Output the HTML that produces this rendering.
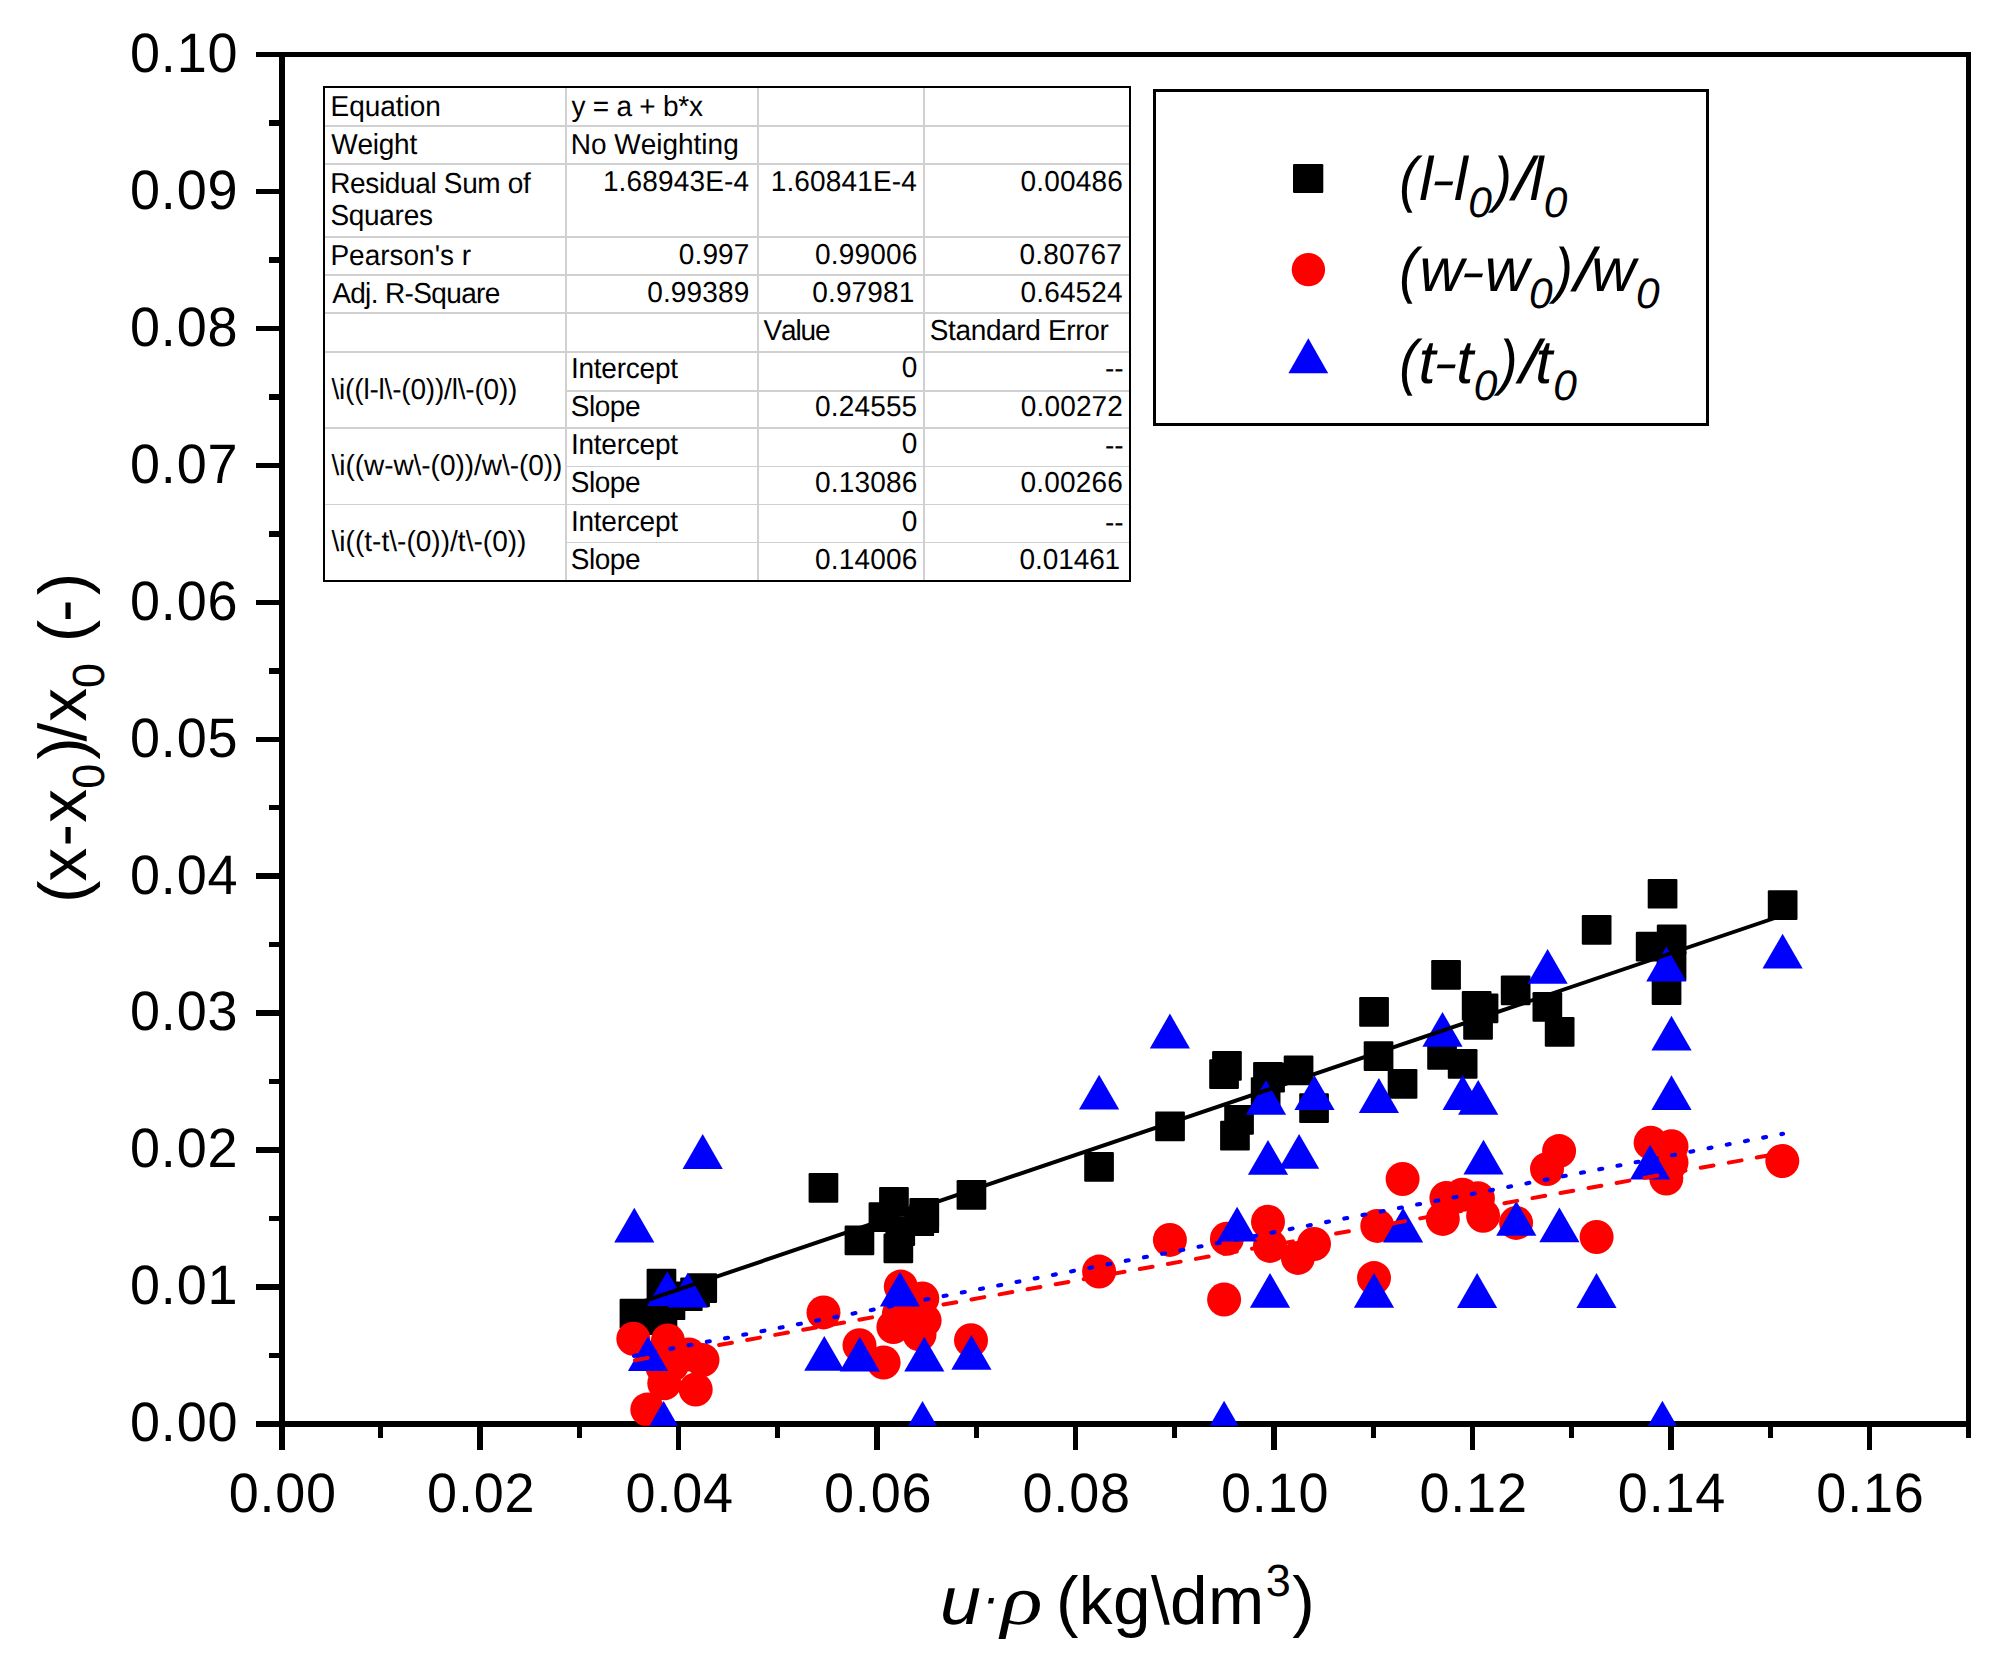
<!DOCTYPE html>
<html lang="en"><head><meta charset="utf-8"><title>Linear fit: (x-x0)/x0 versus u·ρ</title>
<style>
html,body{margin:0;padding:0;background:#fff;}
svg{display:block;}
text{font-kerning:none;text-rendering:geometricPrecision;white-space:pre;}
</style></head><body>
<svg width="2008" height="1665" viewBox="0 0 2008 1665">
<rect x="0" y="0" width="2008" height="1665" fill="#fff"/>
<g id="axes" shape-rendering="crispEdges">
<rect x="256.00" y="52.00" width="1715.00" height="5.00" fill="#000"/>
<rect x="256.00" y="1421.00" width="1715.00" height="6.00" fill="#000"/>
<rect x="279.00" y="52.00" width="6.00" height="1398.00" fill="#000"/>
<rect x="1966.00" y="52.00" width="5.00" height="1386.00" fill="#000"/>
<rect x="269.00" y="1352.78" width="10.00" height="5.50" fill="#000"/>
<rect x="256.00" y="1284.30" width="23.00" height="5.50" fill="#000"/>
<rect x="269.00" y="1215.83" width="10.00" height="5.50" fill="#000"/>
<rect x="256.00" y="1147.35" width="23.00" height="5.50" fill="#000"/>
<rect x="269.00" y="1078.88" width="10.00" height="5.50" fill="#000"/>
<rect x="256.00" y="1010.40" width="23.00" height="5.50" fill="#000"/>
<rect x="269.00" y="941.92" width="10.00" height="5.50" fill="#000"/>
<rect x="256.00" y="873.45" width="23.00" height="5.50" fill="#000"/>
<rect x="269.00" y="804.98" width="10.00" height="5.50" fill="#000"/>
<rect x="256.00" y="736.50" width="23.00" height="5.50" fill="#000"/>
<rect x="269.00" y="668.02" width="10.00" height="5.50" fill="#000"/>
<rect x="256.00" y="599.55" width="23.00" height="5.50" fill="#000"/>
<rect x="269.00" y="531.07" width="10.00" height="5.50" fill="#000"/>
<rect x="256.00" y="462.60" width="23.00" height="5.50" fill="#000"/>
<rect x="269.00" y="394.12" width="10.00" height="5.50" fill="#000"/>
<rect x="256.00" y="325.65" width="23.00" height="5.50" fill="#000"/>
<rect x="269.00" y="257.17" width="10.00" height="5.50" fill="#000"/>
<rect x="256.00" y="188.70" width="23.00" height="5.50" fill="#000"/>
<rect x="269.00" y="120.22" width="10.00" height="5.50" fill="#000"/>
<rect x="378.43" y="1427.00" width="5.00" height="11.00" fill="#000"/>
<rect x="477.36" y="1427.00" width="5.60" height="23.00" fill="#000"/>
<rect x="576.89" y="1427.00" width="5.00" height="11.00" fill="#000"/>
<rect x="675.82" y="1427.00" width="5.60" height="23.00" fill="#000"/>
<rect x="775.35" y="1427.00" width="5.00" height="11.00" fill="#000"/>
<rect x="874.28" y="1427.00" width="5.60" height="23.00" fill="#000"/>
<rect x="973.81" y="1427.00" width="5.00" height="11.00" fill="#000"/>
<rect x="1072.74" y="1427.00" width="5.60" height="23.00" fill="#000"/>
<rect x="1172.27" y="1427.00" width="5.00" height="11.00" fill="#000"/>
<rect x="1271.20" y="1427.00" width="5.60" height="23.00" fill="#000"/>
<rect x="1370.73" y="1427.00" width="5.00" height="11.00" fill="#000"/>
<rect x="1469.66" y="1427.00" width="5.60" height="23.00" fill="#000"/>
<rect x="1569.19" y="1427.00" width="5.00" height="11.00" fill="#000"/>
<rect x="1668.12" y="1427.00" width="5.60" height="23.00" fill="#000"/>
<rect x="1767.65" y="1427.00" width="5.00" height="11.00" fill="#000"/>
<rect x="1866.58" y="1427.00" width="5.60" height="23.00" fill="#000"/>
</g>
<g id="ticklabels">
<text transform="translate(228.65,1511.80) scale(1.0,1.03)" style="font-family:'Liberation Sans', sans-serif;font-size:54.0px;letter-spacing:0.800px;" fill="#000" >0.00</text>
<text transform="translate(427.11,1511.80) scale(1.0,1.03)" style="font-family:'Liberation Sans', sans-serif;font-size:54.0px;letter-spacing:0.800px;" fill="#000" >0.02</text>
<text transform="translate(625.57,1511.80) scale(1.0,1.03)" style="font-family:'Liberation Sans', sans-serif;font-size:54.0px;letter-spacing:0.800px;" fill="#000" >0.04</text>
<text transform="translate(824.03,1511.80) scale(1.0,1.03)" style="font-family:'Liberation Sans', sans-serif;font-size:54.0px;letter-spacing:0.800px;" fill="#000" >0.06</text>
<text transform="translate(1022.49,1511.80) scale(1.0,1.03)" style="font-family:'Liberation Sans', sans-serif;font-size:54.0px;letter-spacing:0.800px;" fill="#000" >0.08</text>
<text transform="translate(1220.95,1511.80) scale(1.0,1.03)" style="font-family:'Liberation Sans', sans-serif;font-size:54.0px;letter-spacing:0.800px;" fill="#000" >0.10</text>
<text transform="translate(1419.41,1511.80) scale(1.0,1.03)" style="font-family:'Liberation Sans', sans-serif;font-size:54.0px;letter-spacing:0.800px;" fill="#000" >0.12</text>
<text transform="translate(1617.87,1511.80) scale(1.0,1.03)" style="font-family:'Liberation Sans', sans-serif;font-size:54.0px;letter-spacing:0.800px;" fill="#000" >0.14</text>
<text transform="translate(1816.33,1511.80) scale(1.0,1.03)" style="font-family:'Liberation Sans', sans-serif;font-size:54.0px;letter-spacing:0.800px;" fill="#000" >0.16</text>
<text transform="translate(130.00,1441.30) scale(1.0,1.03)" style="font-family:'Liberation Sans', sans-serif;font-size:54.0px;letter-spacing:0.800px;" fill="#000" >0.00</text>
<text transform="translate(130.00,1304.35) scale(1.0,1.03)" style="font-family:'Liberation Sans', sans-serif;font-size:54.0px;letter-spacing:0.800px;" fill="#000" >0.01</text>
<text transform="translate(130.00,1167.40) scale(1.0,1.03)" style="font-family:'Liberation Sans', sans-serif;font-size:54.0px;letter-spacing:0.800px;" fill="#000" >0.02</text>
<text transform="translate(130.00,1030.45) scale(1.0,1.03)" style="font-family:'Liberation Sans', sans-serif;font-size:54.0px;letter-spacing:0.800px;" fill="#000" >0.03</text>
<text transform="translate(130.00,893.50) scale(1.0,1.03)" style="font-family:'Liberation Sans', sans-serif;font-size:54.0px;letter-spacing:0.800px;" fill="#000" >0.04</text>
<text transform="translate(130.00,756.55) scale(1.0,1.03)" style="font-family:'Liberation Sans', sans-serif;font-size:54.0px;letter-spacing:0.800px;" fill="#000" >0.05</text>
<text transform="translate(130.00,619.60) scale(1.0,1.03)" style="font-family:'Liberation Sans', sans-serif;font-size:54.0px;letter-spacing:0.800px;" fill="#000" >0.06</text>
<text transform="translate(130.00,482.65) scale(1.0,1.03)" style="font-family:'Liberation Sans', sans-serif;font-size:54.0px;letter-spacing:0.800px;" fill="#000" >0.07</text>
<text transform="translate(130.00,345.70) scale(1.0,1.03)" style="font-family:'Liberation Sans', sans-serif;font-size:54.0px;letter-spacing:0.800px;" fill="#000" >0.08</text>
<text transform="translate(130.00,208.75) scale(1.0,1.03)" style="font-family:'Liberation Sans', sans-serif;font-size:54.0px;letter-spacing:0.800px;" fill="#000" >0.09</text>
<text transform="translate(130.00,71.80) scale(1.0,1.03)" style="font-family:'Liberation Sans', sans-serif;font-size:54.0px;letter-spacing:0.800px;" fill="#000" >0.10</text>
</g>
<g id="titles">
<text transform="translate(939.91,1624.00) scale(1.09,1.0)" style="font-family:'Liberation Sans', sans-serif;font-size:67.5px;font-style:italic;" fill="#000" >u</text>
<text transform="translate(982.19,1615.30) scale(0.78,0.78)" style="font-family:'Liberation Sans', sans-serif;font-size:67.5px;font-style:italic;" fill="#000" >·</text>
<text transform="translate(1000.81,1624.00) scale(1.23,1.0)" style="font-family:'Liberation Serif', serif;font-size:70.875px;font-style:italic;" fill="#000" >ρ</text>
<text x="1056.01" y="1624.00" style="font-family:'Liberation Sans', sans-serif;font-size:67.5px;letter-spacing:0.369px;" fill="#000" >(kg\dm</text>
<text x="1265.79" y="1596.00" style="font-family:'Liberation Sans', sans-serif;font-size:45.0px;" fill="#000" >3</text>
<text x="1292.20" y="1624.00" style="font-family:'Liberation Sans', sans-serif;font-size:67.5px;" fill="#000" >)</text>
<g transform="translate(86.1,900) rotate(-90)">
<text x="-2.89" y="0.00" style="font-family:'Liberation Sans', sans-serif;font-size:67.5px;">(</text>
<text x="18.54" y="0.00" style="font-family:'Liberation Sans', sans-serif;font-size:67.5px;">x</text>
<text x="53.50" y="0.00" style="font-family:'Liberation Sans', sans-serif;font-size:67.5px;">-</text>
<text x="77.34" y="0.00" style="font-family:'Liberation Sans', sans-serif;font-size:67.5px;">x</text>
<text x="111.24" y="18.00" style="font-family:'Liberation Sans', sans-serif;font-size:45.0px;">0</text>
<text x="140.20" y="0.00" style="font-family:'Liberation Sans', sans-serif;font-size:67.5px;">)</text>
<text x="158.60" y="0.00" style="font-family:'Liberation Sans', sans-serif;font-size:67.5px;">/</text>
<text x="178.24" y="0.00" style="font-family:'Liberation Sans', sans-serif;font-size:67.5px;">x</text>
<text x="212.14" y="18.00" style="font-family:'Liberation Sans', sans-serif;font-size:45.0px;">0</text>
<text x="257.71" y="0.00" style="font-family:'Liberation Sans', sans-serif;font-size:67.5px;">(</text>
<text x="278.10" y="0.00" style="font-family:'Liberation Sans', sans-serif;font-size:67.5px;">-</text>
<text x="304.80" y="0.00" style="font-family:'Liberation Sans', sans-serif;font-size:67.5px;">)</text>
</g>
</g>
<g id="fit-table">
<g shape-rendering="crispEdges">
<rect x="565.00" y="87.00" width="2.00" height="494.00" fill="#d0d0d0"/>
<rect x="756.70" y="87.00" width="2.00" height="494.00" fill="#d0d0d0"/>
<rect x="923.10" y="87.00" width="2.00" height="494.00" fill="#d0d0d0"/>
<rect x="324.00" y="125.30" width="806.10" height="2.00" fill="#d0d0d0"/>
<rect x="324.00" y="163.00" width="806.10" height="2.00" fill="#d0d0d0"/>
<rect x="324.00" y="235.60" width="806.10" height="2.00" fill="#d0d0d0"/>
<rect x="324.00" y="273.70" width="806.10" height="2.00" fill="#d0d0d0"/>
<rect x="324.00" y="311.90" width="806.10" height="2.00" fill="#d0d0d0"/>
<rect x="324.00" y="351.10" width="806.10" height="2.00" fill="#d0d0d0"/>
<rect x="566.00" y="389.50" width="564.10" height="2.00" fill="#d0d0d0"/>
<rect x="324.00" y="427.00" width="806.10" height="2.00" fill="#d0d0d0"/>
<rect x="566.00" y="466.10" width="564.10" height="1.20" fill="#d0d0d0"/>
<rect x="324.00" y="503.90" width="806.10" height="1.20" fill="#d0d0d0"/>
<rect x="566.00" y="542.20" width="564.10" height="1.20" fill="#d0d0d0"/>
<rect x="323.00" y="86.00" width="808.00" height="2.00" fill="#000"/>
<rect x="323.00" y="579.60" width="808.00" height="2.10" fill="#000"/>
<rect x="323.00" y="86.00" width="2.20" height="495.70" fill="#000"/>
<rect x="1129.20" y="86.00" width="1.80" height="495.70" fill="#000"/>
</g>
<text transform="translate(330.60,116.00) scale(1.0,1.03)" style="font-family:'Liberation Sans', sans-serif;font-size:28.0px;letter-spacing:-0.060px;" fill="#000" >Equation</text>
<text transform="translate(331.28,154.20) scale(1.0,1.03)" style="font-family:'Liberation Sans', sans-serif;font-size:28.0px;letter-spacing:-0.243px;" fill="#000" >Weight</text>
<text transform="translate(330.20,192.90) scale(1.0,1.03)" style="font-family:'Liberation Sans', sans-serif;font-size:28.0px;letter-spacing:-0.348px;" fill="#000" >Residual Sum of</text>
<text transform="translate(330.43,224.90) scale(1.0,1.03)" style="font-family:'Liberation Sans', sans-serif;font-size:28.0px;letter-spacing:-0.301px;" fill="#000" >Squares</text>
<text transform="translate(330.40,265.00) scale(1.0,1.03)" style="font-family:'Liberation Sans', sans-serif;font-size:28.0px;letter-spacing:-0.008px;" fill="#000" >Pearson's r</text>
<text transform="translate(332.15,302.90) scale(1.0,1.03)" style="font-family:'Liberation Sans', sans-serif;font-size:28.0px;letter-spacing:-0.639px;" fill="#000" >Adj. R-Square</text>
<text transform="translate(331.50,398.90) scale(1.0,1.03)" style="font-family:'Liberation Sans', sans-serif;font-size:28.0px;letter-spacing:-0.189px;" fill="#000" >\i((l-l\-(0))/l\-(0))</text>
<text transform="translate(331.50,474.70) scale(1.0,1.03)" style="font-family:'Liberation Sans', sans-serif;font-size:28.0px;letter-spacing:-0.044px;" fill="#000" >\i((w-w\-(0))/w\-(0))</text>
<text transform="translate(331.50,551.30) scale(1.0,1.03)" style="font-family:'Liberation Sans', sans-serif;font-size:28.0px;letter-spacing:0.027px;" fill="#000" >\i((t-t\-(0))/t\-(0))</text>
<text transform="translate(571.43,116.00) scale(1.0,1.03)" style="font-family:'Liberation Sans', sans-serif;font-size:28.0px;letter-spacing:-0.239px;" fill="#000" >y = a + b*x</text>
<text transform="translate(570.70,154.20) scale(1.0,1.03)" style="font-family:'Liberation Sans', sans-serif;font-size:28.0px;letter-spacing:-0.007px;" fill="#000" >No Weighting</text>
<text transform="translate(602.89,191.00) scale(1.0,1.03)" style="font-family:'Liberation Sans', sans-serif;font-size:28.0px;letter-spacing:0.150px;" fill="#000" >1.68943E-4</text>
<text transform="translate(678.74,264.20) scale(1.0,1.03)" style="font-family:'Liberation Sans', sans-serif;font-size:28.0px;letter-spacing:0.150px;" fill="#000" >0.997</text>
<text transform="translate(647.21,302.00) scale(1.0,1.03)" style="font-family:'Liberation Sans', sans-serif;font-size:28.0px;letter-spacing:0.150px;" fill="#000" >0.99389</text>
<text transform="translate(570.92,378.00) scale(1.0,1.03)" style="font-family:'Liberation Sans', sans-serif;font-size:28.0px;letter-spacing:-0.233px;" fill="#000" >Intercept</text>
<text transform="translate(570.92,454.10) scale(1.0,1.03)" style="font-family:'Liberation Sans', sans-serif;font-size:28.0px;letter-spacing:-0.233px;" fill="#000" >Intercept</text>
<text transform="translate(570.92,530.60) scale(1.0,1.03)" style="font-family:'Liberation Sans', sans-serif;font-size:28.0px;letter-spacing:-0.233px;" fill="#000" >Intercept</text>
<text transform="translate(570.83,415.50) scale(1.0,1.03)" style="font-family:'Liberation Sans', sans-serif;font-size:28.0px;letter-spacing:-0.499px;" fill="#000" >Slope</text>
<text transform="translate(570.83,492.40) scale(1.0,1.03)" style="font-family:'Liberation Sans', sans-serif;font-size:28.0px;letter-spacing:-0.499px;" fill="#000" >Slope</text>
<text transform="translate(570.83,568.60) scale(1.0,1.03)" style="font-family:'Liberation Sans', sans-serif;font-size:28.0px;letter-spacing:-0.499px;" fill="#000" >Slope</text>
<text transform="translate(770.69,191.00) scale(1.0,1.03)" style="font-family:'Liberation Sans', sans-serif;font-size:28.0px;letter-spacing:0.150px;" fill="#000" >1.60841E-4</text>
<text transform="translate(815.12,264.20) scale(1.0,1.03)" style="font-family:'Liberation Sans', sans-serif;font-size:28.0px;letter-spacing:0.150px;" fill="#000" >0.99006</text>
<text transform="translate(812.25,302.00) scale(1.0,1.03)" style="font-family:'Liberation Sans', sans-serif;font-size:28.0px;letter-spacing:0.150px;" fill="#000" >0.97981</text>
<text transform="translate(763.48,340.00) scale(1.0,1.03)" style="font-family:'Liberation Sans', sans-serif;font-size:28.0px;letter-spacing:-1.137px;" fill="#000" >Value</text>
<text transform="translate(901.82,377.00) scale(1.0,1.03)" style="font-family:'Liberation Sans', sans-serif;font-size:28.0px;letter-spacing:0.150px;" fill="#000" >0</text>
<text transform="translate(815.06,415.50) scale(1.0,1.03)" style="font-family:'Liberation Sans', sans-serif;font-size:28.0px;letter-spacing:0.150px;" fill="#000" >0.24555</text>
<text transform="translate(901.82,453.30) scale(1.0,1.03)" style="font-family:'Liberation Sans', sans-serif;font-size:28.0px;letter-spacing:0.150px;" fill="#000" >0</text>
<text transform="translate(815.12,492.20) scale(1.0,1.03)" style="font-family:'Liberation Sans', sans-serif;font-size:28.0px;letter-spacing:0.150px;" fill="#000" >0.13086</text>
<text transform="translate(901.82,530.50) scale(1.0,1.03)" style="font-family:'Liberation Sans', sans-serif;font-size:28.0px;letter-spacing:0.150px;" fill="#000" >0</text>
<text transform="translate(815.12,568.60) scale(1.0,1.03)" style="font-family:'Liberation Sans', sans-serif;font-size:28.0px;letter-spacing:0.150px;" fill="#000" >0.14006</text>
<text transform="translate(1020.62,191.00) scale(1.0,1.03)" style="font-family:'Liberation Sans', sans-serif;font-size:28.0px;letter-spacing:0.150px;" fill="#000" >0.00486</text>
<text transform="translate(1019.60,264.20) scale(1.0,1.03)" style="font-family:'Liberation Sans', sans-serif;font-size:28.0px;letter-spacing:0.150px;" fill="#000" >0.80767</text>
<text transform="translate(1020.51,302.00) scale(1.0,1.03)" style="font-family:'Liberation Sans', sans-serif;font-size:28.0px;letter-spacing:0.150px;" fill="#000" >0.64524</text>
<text transform="translate(929.73,340.00) scale(1.0,1.03)" style="font-family:'Liberation Sans', sans-serif;font-size:28.0px;letter-spacing:-0.354px;" fill="#000" >Standard Error</text>
<text transform="translate(1105.06,378.40) scale(1.0,1.03)" style="font-family:'Liberation Sans', sans-serif;font-size:28.0px;letter-spacing:-0.160px;" fill="#000" >--</text>
<text transform="translate(1105.06,454.70) scale(1.0,1.03)" style="font-family:'Liberation Sans', sans-serif;font-size:28.0px;letter-spacing:-0.160px;" fill="#000" >--</text>
<text transform="translate(1105.06,531.90) scale(1.0,1.03)" style="font-family:'Liberation Sans', sans-serif;font-size:28.0px;letter-spacing:-0.160px;" fill="#000" >--</text>
<text transform="translate(1020.80,415.50) scale(1.0,1.03)" style="font-family:'Liberation Sans', sans-serif;font-size:28.0px;letter-spacing:0.150px;" fill="#000" >0.00272</text>
<text transform="translate(1020.62,492.20) scale(1.0,1.03)" style="font-family:'Liberation Sans', sans-serif;font-size:28.0px;letter-spacing:0.150px;" fill="#000" >0.00266</text>
<text transform="translate(1019.61,568.60) scale(1.0,1.03)" style="font-family:'Liberation Sans', sans-serif;font-size:28.0px;letter-spacing:-0.109px;" fill="#000" >0.01461</text>
</g>
<defs><clipPath id="plotclip"><rect x="282" y="54.5" width="1686.5" height="1371.3"/></clipPath></defs>
<g id="data" clip-path="url(#plotclip)">
<g id="series-l" fill="#000">
<rect x="646.6" y="1268.7" width="29.7" height="29.7" rx="1.2"/>
<rect x="687.4" y="1273.2" width="29.7" height="29.7" rx="1.2"/>
<rect x="619.6" y="1298.7" width="29.7" height="29.7" rx="1.2"/>
<rect x="680.2" y="1277.5" width="29.7" height="29.7" rx="1.2"/>
<rect x="672.9" y="1281.4" width="29.7" height="29.7" rx="1.2"/>
<rect x="655.6" y="1290.4" width="29.7" height="29.7" rx="1.2"/>
<rect x="647.6" y="1301.2" width="29.7" height="29.7" rx="1.2"/>
<rect x="633.1" y="1305.2" width="29.7" height="29.7" rx="1.2"/>
<rect x="808.6" y="1173.0" width="29.7" height="29.7" rx="1.2"/>
<rect x="956.6" y="1180.1" width="29.7" height="29.7" rx="1.2"/>
<rect x="879.1" y="1186.9" width="29.7" height="29.7" rx="1.2"/>
<rect x="868.6" y="1202.2" width="29.7" height="29.7" rx="1.2"/>
<rect x="909.4" y="1197.9" width="29.7" height="29.7" rx="1.2"/>
<rect x="909.4" y="1203.4" width="29.7" height="29.7" rx="1.2"/>
<rect x="904.4" y="1206.4" width="29.7" height="29.7" rx="1.2"/>
<rect x="885.4" y="1216.2" width="29.7" height="29.7" rx="1.2"/>
<rect x="883.5" y="1233.5" width="29.7" height="29.7" rx="1.2"/>
<rect x="844.6" y="1225.6" width="29.7" height="29.7" rx="1.2"/>
<rect x="1084.2" y="1152.0" width="29.7" height="29.7" rx="1.2"/>
<rect x="1155.2" y="1111.6" width="29.7" height="29.7" rx="1.2"/>
<rect x="1212.1" y="1051.0" width="29.7" height="29.7" rx="1.2"/>
<rect x="1209.2" y="1059.2" width="29.7" height="29.7" rx="1.2"/>
<rect x="1253.1" y="1062.1" width="29.7" height="29.7" rx="1.2"/>
<rect x="1255.2" y="1062.8" width="29.7" height="29.7" rx="1.2"/>
<rect x="1250.8" y="1077.2" width="29.7" height="29.7" rx="1.2"/>
<rect x="1283.7" y="1055.6" width="29.7" height="29.7" rx="1.2"/>
<rect x="1299.2" y="1093.2" width="29.7" height="29.7" rx="1.2"/>
<rect x="1224.2" y="1105.0" width="29.7" height="29.7" rx="1.2"/>
<rect x="1220.1" y="1120.7" width="29.7" height="29.7" rx="1.2"/>
<rect x="1359.2" y="997.0" width="29.7" height="29.7" rx="1.2"/>
<rect x="1363.7" y="1041.2" width="29.7" height="29.7" rx="1.2"/>
<rect x="1387.7" y="1069.1" width="29.7" height="29.7" rx="1.2"/>
<rect x="1431.2" y="960.0" width="29.7" height="29.7" rx="1.2"/>
<rect x="1427.2" y="1040.0" width="29.7" height="29.7" rx="1.2"/>
<rect x="1447.8" y="1049.0" width="29.7" height="29.7" rx="1.2"/>
<rect x="1461.8" y="990.9" width="29.7" height="29.7" rx="1.2"/>
<rect x="1468.7" y="993.5" width="29.7" height="29.7" rx="1.2"/>
<rect x="1463.2" y="1010.1" width="29.7" height="29.7" rx="1.2"/>
<rect x="1500.8" y="975.5" width="29.7" height="29.7" rx="1.2"/>
<rect x="1532.5" y="992.1" width="29.7" height="29.7" rx="1.2"/>
<rect x="1544.8" y="1017.1" width="29.7" height="29.7" rx="1.2"/>
<rect x="1581.8" y="915.0" width="29.7" height="29.7" rx="1.2"/>
<rect x="1647.7" y="878.9" width="29.7" height="29.7" rx="1.2"/>
<rect x="1767.8" y="890.2" width="29.7" height="29.7" rx="1.2"/>
<rect x="1656.8" y="924.6" width="29.7" height="29.7" rx="1.2"/>
<rect x="1635.8" y="931.8" width="29.7" height="29.7" rx="1.2"/>
<rect x="1656.7" y="951.4" width="29.7" height="29.7" rx="1.2"/>
<rect x="1651.7" y="975.2" width="29.7" height="29.7" rx="1.2"/>
</g>
<g id="series-w" fill="#ff0000">
<circle cx="633.3" cy="1338.7" r="17.0"/>
<circle cx="667.9" cy="1340.5" r="17.0"/>
<circle cx="688.9" cy="1354.4" r="17.0"/>
<circle cx="702.5" cy="1360.1" r="17.0"/>
<circle cx="664.3" cy="1383.3" r="17.0"/>
<circle cx="695.7" cy="1389.5" r="17.0"/>
<circle cx="647.3" cy="1409.6" r="17.0"/>
<circle cx="662.5" cy="1367.3" r="17.0"/>
<circle cx="672.0" cy="1365.0" r="17.0"/>
<circle cx="823.5" cy="1312.4" r="17.0"/>
<circle cx="900.8" cy="1286.6" r="17.0"/>
<circle cx="898.9" cy="1314.1" r="17.0"/>
<circle cx="922.3" cy="1298.4" r="17.0"/>
<circle cx="893.4" cy="1327.0" r="17.0"/>
<circle cx="924.6" cy="1320.5" r="17.0"/>
<circle cx="919.5" cy="1334.4" r="17.0"/>
<circle cx="859.5" cy="1345.3" r="17.0"/>
<circle cx="883.6" cy="1362.5" r="17.0"/>
<circle cx="971.0" cy="1340.2" r="17.0"/>
<circle cx="1099.1" cy="1271.6" r="17.0"/>
<circle cx="1169.9" cy="1239.9" r="17.0"/>
<circle cx="1224.1" cy="1299.5" r="17.0"/>
<circle cx="1226.9" cy="1238.8" r="17.0"/>
<circle cx="1268.0" cy="1221.8" r="17.0"/>
<circle cx="1270.0" cy="1245.9" r="17.0"/>
<circle cx="1297.9" cy="1257.9" r="17.0"/>
<circle cx="1314.0" cy="1244.0" r="17.0"/>
<circle cx="1377.3" cy="1225.9" r="17.0"/>
<circle cx="1374.0" cy="1278.1" r="17.0"/>
<circle cx="1402.6" cy="1179.0" r="17.0"/>
<circle cx="1446.4" cy="1197.9" r="17.0"/>
<circle cx="1462.3" cy="1194.8" r="17.0"/>
<circle cx="1477.9" cy="1198.2" r="17.0"/>
<circle cx="1442.8" cy="1218.9" r="17.0"/>
<circle cx="1483.1" cy="1215.8" r="17.0"/>
<circle cx="1516.1" cy="1222.9" r="17.0"/>
<circle cx="1559.1" cy="1151.1" r="17.0"/>
<circle cx="1547.0" cy="1169.1" r="17.0"/>
<circle cx="1596.6" cy="1237.0" r="17.0"/>
<circle cx="1650.6" cy="1142.7" r="17.0"/>
<circle cx="1671.5" cy="1146.2" r="17.0"/>
<circle cx="1666.3" cy="1178.6" r="17.0"/>
<circle cx="1671.5" cy="1162.6" r="17.0"/>
<circle cx="1782.3" cy="1161.0" r="17.0"/>
</g>
<g id="series-t" fill="#0000ff">
<polygon points="634.3,1207.8 654.4,1242.6 614.2,1242.6"/>
<polygon points="648.0,1336.2 668.1,1371.0 627.9,1371.0"/>
<polygon points="663.7,1401.1 683.8,1435.9 643.6,1435.9"/>
<polygon points="667.3,1271.3 687.4,1306.1 647.2,1306.1"/>
<polygon points="687.7,1272.8 707.8,1307.6 667.6,1307.6"/>
<polygon points="702.7,1134.1 722.8,1168.9 682.6,1168.9"/>
<polygon points="824.3,1336.0 844.4,1370.8 804.2,1370.8"/>
<polygon points="859.8,1336.8 879.9,1371.6 839.7,1371.6"/>
<polygon points="924.3,1336.8 944.4,1371.6 904.2,1371.6"/>
<polygon points="971.4,1334.9 991.5,1369.7 951.3,1369.7"/>
<polygon points="900.0,1271.8 920.1,1306.6 879.9,1306.6"/>
<polygon points="922.5,1401.0 942.6,1435.8 902.4,1435.8"/>
<polygon points="1169.9,1013.6 1190.0,1048.4 1149.8,1048.4"/>
<polygon points="1099.1,1074.8 1119.2,1109.6 1079.0,1109.6"/>
<polygon points="1266.0,1080.0 1286.1,1114.8 1245.9,1114.8"/>
<polygon points="1314.5,1075.3 1334.6,1110.1 1294.4,1110.1"/>
<polygon points="1378.9,1078.1 1399.0,1112.9 1358.8,1112.9"/>
<polygon points="1268.0,1140.0 1288.1,1174.8 1247.9,1174.8"/>
<polygon points="1299.1,1134.0 1319.2,1168.8 1279.0,1168.8"/>
<polygon points="1237.1,1206.8 1257.2,1241.6 1217.0,1241.6"/>
<polygon points="1270.0,1273.0 1290.1,1307.8 1249.9,1307.8"/>
<polygon points="1374.0,1273.0 1394.1,1307.8 1353.9,1307.8"/>
<polygon points="1224.1,1400.8 1244.2,1435.6 1204.0,1435.6"/>
<polygon points="1442.5,1012.0 1462.6,1046.8 1422.4,1046.8"/>
<polygon points="1547.6,949.0 1567.7,983.8 1527.5,983.8"/>
<polygon points="1462.7,1075.1 1482.8,1109.9 1442.6,1109.9"/>
<polygon points="1478.2,1080.0 1498.3,1114.8 1458.1,1114.8"/>
<polygon points="1483.5,1139.8 1503.6,1174.6 1463.4,1174.6"/>
<polygon points="1403.1,1207.8 1423.2,1242.6 1383.0,1242.6"/>
<polygon points="1516.3,1201.0 1536.4,1235.8 1496.2,1235.8"/>
<polygon points="1559.4,1207.4 1579.5,1242.2 1539.3,1242.2"/>
<polygon points="1477.1,1273.1 1497.2,1307.9 1457.0,1307.9"/>
<polygon points="1596.5,1273.1 1616.6,1307.9 1576.4,1307.9"/>
<polygon points="1666.3,946.6 1686.4,981.4 1646.2,981.4"/>
<polygon points="1782.6,933.8 1802.7,968.6 1762.5,968.6"/>
<polygon points="1671.5,1015.8 1691.6,1050.6 1651.4,1050.6"/>
<polygon points="1671.5,1075.3 1691.6,1110.1 1651.4,1110.1"/>
<polygon points="1650.1,1144.8 1670.2,1179.6 1630.0,1179.6"/>
<polygon points="1662.4,1400.8 1682.5,1435.6 1642.3,1435.6"/>
</g>
<line x1="633.97" y1="1304.62" x2="1783.05" y2="915.21" fill="none" stroke="#000" stroke-width="4.0"/>
<line x1="633.97" y1="1360.38" x2="1783.05" y2="1152.85" fill="none" stroke="#ff0000" stroke-width="4.0" stroke-dasharray="13.0 15.5" stroke-linecap="round" stroke-dashoffset="-1"/>
<line x1="633.97" y1="1355.91" x2="1783.05" y2="1133.79" fill="none" stroke="#0000ff" stroke-width="4.1" stroke-dasharray="3.0 15.55" stroke-linecap="round"/>
</g>
<g id="legend">
<rect x="1154.5" y="90.5" width="553" height="334" fill="#fff" stroke="#000" stroke-width="3" shape-rendering="crispEdges"/>
<rect x="1293" y="164" width="30.3" height="29" rx="1.2" fill="#000"/>
<circle cx="1308.4" cy="269.6" r="16.7" fill="#ff0000"/>
<polygon points="1308.3,338.3 1328.2,373.3 1288.4,373.3" fill="#0000ff"/>
<text transform="translate(1399.28,199.70) scale(0.91,1.0)" style="font-family:'Liberation Sans', sans-serif;font-size:61.5px;font-style:italic;" fill="#000" >(</text>
<text x="1419.21" y="199.70" style="font-family:'Liberation Sans', sans-serif;font-size:61.5px;font-style:italic;" fill="#000" >l</text>
<text transform="translate(1430.55,196.00) scale(1.19,0.78)" style="font-family:'Liberation Sans', sans-serif;font-size:61.5px;font-style:italic;" fill="#000" >-</text>
<text x="1453.91" y="199.70" style="font-family:'Liberation Sans', sans-serif;font-size:61.5px;font-style:italic;" fill="#000" >l</text>
<text x="1468.15" y="216.70" style="font-family:'Liberation Sans', sans-serif;font-size:42.5px;font-style:italic;" fill="#000" >0</text>
<text transform="translate(1493.34,199.70) scale(0.91,1.0)" style="font-family:'Liberation Sans', sans-serif;font-size:61.5px;font-style:italic;" fill="#000" >)</text>
<text transform="translate(1512.94,199.70) scale(1.16,1.0)" style="font-family:'Liberation Sans', sans-serif;font-size:61.5px;font-style:italic;" fill="#000" >/</text>
<text x="1529.81" y="199.70" style="font-family:'Liberation Sans', sans-serif;font-size:61.5px;font-style:italic;" fill="#000" >l</text>
<text x="1543.85" y="216.70" style="font-family:'Liberation Sans', sans-serif;font-size:42.5px;font-style:italic;" fill="#000" >0</text>
<text transform="translate(1399.28,291.20) scale(0.91,1.0)" style="font-family:'Liberation Sans', sans-serif;font-size:61.5px;font-style:italic;" fill="#000" >(</text>
<text x="1419.44" y="291.20" style="font-family:'Liberation Sans', sans-serif;font-size:61.5px;font-style:italic;" fill="#000" >w</text>
<text transform="translate(1460.25,287.50) scale(1.19,0.78)" style="font-family:'Liberation Sans', sans-serif;font-size:61.5px;font-style:italic;" fill="#000" >-</text>
<text x="1484.84" y="291.20" style="font-family:'Liberation Sans', sans-serif;font-size:61.5px;font-style:italic;" fill="#000" >w</text>
<text x="1528.95" y="308.20" style="font-family:'Liberation Sans', sans-serif;font-size:42.5px;font-style:italic;" fill="#000" >0</text>
<text transform="translate(1554.14,291.20) scale(0.91,1.0)" style="font-family:'Liberation Sans', sans-serif;font-size:61.5px;font-style:italic;" fill="#000" >)</text>
<text transform="translate(1574.14,291.20) scale(1.16,1.0)" style="font-family:'Liberation Sans', sans-serif;font-size:61.5px;font-style:italic;" fill="#000" >/</text>
<text x="1591.34" y="291.20" style="font-family:'Liberation Sans', sans-serif;font-size:61.5px;font-style:italic;" fill="#000" >w</text>
<text x="1636.05" y="308.20" style="font-family:'Liberation Sans', sans-serif;font-size:42.5px;font-style:italic;" fill="#000" >0</text>
<text transform="translate(1399.28,383.00) scale(0.91,1.0)" style="font-family:'Liberation Sans', sans-serif;font-size:61.5px;font-style:italic;" fill="#000" >(</text>
<text x="1418.61" y="383.00" style="font-family:'Liberation Sans', sans-serif;font-size:61.5px;font-style:italic;" fill="#000" >t</text>
<text transform="translate(1433.05,379.30) scale(1.19,0.78)" style="font-family:'Liberation Sans', sans-serif;font-size:61.5px;font-style:italic;" fill="#000" >-</text>
<text x="1456.31" y="383.00" style="font-family:'Liberation Sans', sans-serif;font-size:61.5px;font-style:italic;" fill="#000" >t</text>
<text x="1473.85" y="400.00" style="font-family:'Liberation Sans', sans-serif;font-size:42.5px;font-style:italic;" fill="#000" >0</text>
<text transform="translate(1498.94,383.00) scale(0.91,1.0)" style="font-family:'Liberation Sans', sans-serif;font-size:61.5px;font-style:italic;" fill="#000" >)</text>
<text transform="translate(1519.44,383.00) scale(1.16,1.0)" style="font-family:'Liberation Sans', sans-serif;font-size:61.5px;font-style:italic;" fill="#000" >/</text>
<text x="1535.31" y="383.00" style="font-family:'Liberation Sans', sans-serif;font-size:61.5px;font-style:italic;" fill="#000" >t</text>
<text x="1553.35" y="400.00" style="font-family:'Liberation Sans', sans-serif;font-size:42.5px;font-style:italic;" fill="#000" >0</text>
</g>
</svg></body></html>
